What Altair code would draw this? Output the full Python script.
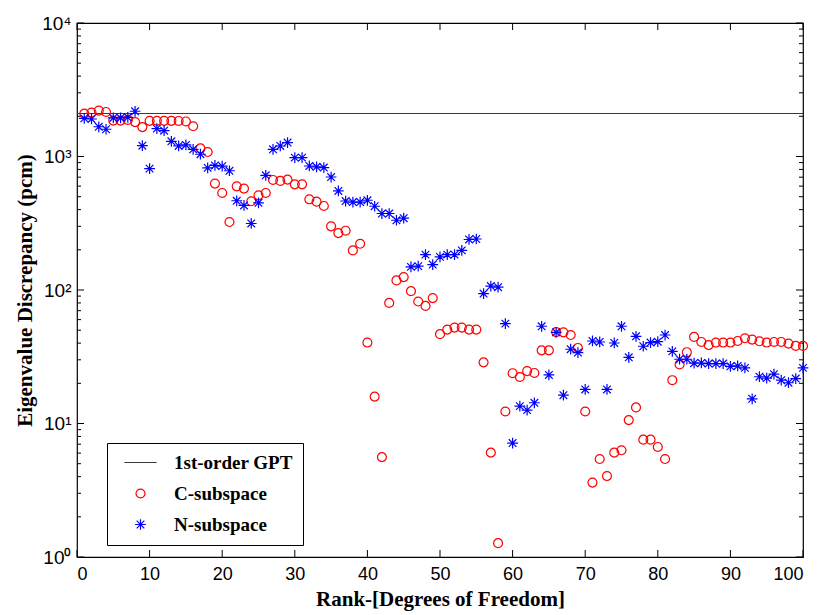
import altair as alt
import pandas as pd

# Eigenvalue discrepancy (pcm) versus rank for the two reduced subspaces
ranks = list(range(1, 101))

c_subspace = [
    2095, 2133, 2208, 2155, 1857, 1857, 1880, 1810, 1660, 1850,
    1850, 1850, 1850, 1845, 1830, 1684, 1150, 1080, 627, 533,
    323, 598, 575, 462, 512, 533, 667, 656, 671, 619,
    619, 478, 459, 426, 300, 267, 278, 198, 222, 40.4,
    15.9, 5.6, 80, 118, 125, 98, 82, 76, 87, 46.7,
    50.5, 52.3, 52.3, 50.5, 50.5, 28.7, 6.05, 1.27, 12.3, 23.8,
    22.3, 24.7, 23.9, 35.3, 35.3, 48.4, 48.2, 46, 36.8, 12.3,
    3.61, 5.42, 4.04, 6.05, 6.3, 10.6, 13.2, 7.57, 7.57, 6.67,
    5.42, 21.1, 27.7, 34.2, 44.5, 40.8, 38.7, 40.4, 40.4, 40.4,
    41.5, 43.5, 42.5, 41.3, 40.4, 40.8, 40.8, 39.7, 38.1, 38.1,
]

n_subspace = [
    1930, 1910, 1670, 1600, 1944, 1944, 1966, 2182, 1205, 811,
    1618, 1560, 1300, 1200, 1220, 1132, 1040, 822, 857, 847,
    782, 466, 430, 315, 450, 723, 1132, 1199, 1271, 981,
    981, 849, 837, 826, 702, 552, 464, 456, 456, 470,
    424, 374, 374, 333, 345, 149, 151, 184, 155, 177,
    184, 184, 198, 239, 241, 94, 107, 105, 56, 7.14,
    13.5, 12.6, 14.3, 53.5, 23.1, 48.2, 16.3, 36, 34, 18.0,
    41.5, 40.8, 18.0, 40.1, 53.5, 31.3, 45, 37.9, 40.4, 41,
    46, 34.7, 30.3, 30.3, 28.3, 28.4, 28.1, 28.1, 28.1, 26.8,
    27, 26.1, 15.3, 22.4, 21.9, 23.4, 21.1, 20.2, 21.7, 26.1,
]

gpt_level = 2100  # first-order GPT reference level

series_names = ["1st-order GPT", "C-subspace", "N-subspace"]
series_colors = ["#3a3a3a", "#ff0000", "#0000ff"]

x_ticks = [0, 10, 20, 30, 40, 50, 60, 70, 80, 90, 100]
y_ticks = [1, 10, 100, 1000, 10000]
y_minor = [m * d for d in [1, 10, 100, 1000] for m in range(2, 10)]

W, H = 726, 534

ASTERISK = "M-1.2,0L1.2,0M0,-1.2L0,1.2M-0.85,-0.85L0.85,0.85M-0.85,0.85L0.85,-0.85"
LINE_SYMBOL = "M-3.6,0L3.6,0"

points = pd.DataFrame({
    "rank": ranks * 2,
    "value": c_subspace + n_subspace,
    "series": ["C-subspace"] * len(ranks) + ["N-subspace"] * len(ranks),
})
gpt = pd.DataFrame({"value": [gpt_level], "series": ["1st-order GPT"]})

xscale = alt.Scale(domain=[0, 100], nice=False, zero=False)
yscale = alt.Scale(type="log", domain=[1, 10000], nice=False)
cscale = alt.Scale(domain=series_names, range=series_colors)
sscale = alt.Scale(domain=series_names, range=[LINE_SYMBOL, "circle", ASTERISK])

serif = "Liberation Serif"
sans = "Liberation Sans"

xaxis = alt.Axis(
    values=x_ticks, ticks=False, grid=False, domain=False,
    labelFont=sans, labelFontSize=18, labelColor="black", labelPadding=8,
    title="Rank-[Degrees of Freedom]", titleFont=serif, titleFontSize=21,
    titleFontWeight="bold", titleColor="black", titlePadding=5)

yaxis = alt.Axis(
    values=y_ticks, ticks=False, grid=False, domain=False,
    labelExpr="'10' + ['\u2070','\u00b9','\u00b2','\u00b3','\u2074'][round(log(datum.value)/log(10))]",
    labelFont=sans, labelFontSize=19, labelColor="black", labelPadding=6,
    title="Eigenvalue Discrepancy (pcm)", titleFont=serif, titleFontSize=21,
    titleFontWeight="bold", titleColor="black", titlePadding=6)

legend = alt.Legend(
    title=None, orient="none", legendX=30, legendY=420,
    strokeColor="black", fillColor="white", padding=10,
    labelFont=serif, labelFontWeight="bold", labelFontSize=19,
    labelColor="black", symbolSize=80, symbolStrokeWidth=1.2,
    rowPadding=11, symbolOffset=14, labelOffset=24,
)

main = alt.Chart(points).mark_point(filled=False, size=80, strokeWidth=1.2, opacity=1).encode(
    x=alt.X("rank:Q", scale=xscale, axis=xaxis),
    y=alt.Y("value:Q", scale=yscale, axis=yaxis),
    color=alt.Color("series:N", scale=cscale, legend=legend),
    shape=alt.Shape("series:N", scale=sscale, legend=legend),
)

gpt_line = alt.Chart(gpt).mark_rule(strokeWidth=1.2).encode(
    y=alt.Y("value:Q", scale=yscale, axis=yaxis),
    color=alt.Color("series:N", scale=cscale, legend=legend),
)

# inward-pointing ticks on all four sides of the box
xt = pd.DataFrame({"x": x_ticks})
ymaj = pd.DataFrame({"v": y_ticks})
ymin = pd.DataFrame({"v": y_minor})

def xtick(y0, y1):
    return alt.Chart(xt).mark_rule(color="black", strokeWidth=1).encode(
        x=alt.X("x:Q", scale=xscale, axis=xaxis), y=alt.value(y0), y2=alt.value(y1))

def ytick(df, x0, x1):
    return alt.Chart(df).mark_rule(color="black", strokeWidth=1).encode(
        y=alt.Y("v:Q", scale=yscale, axis=yaxis), x=alt.value(x0), x2=alt.value(x1))

ticks = [
    xtick(H, H - 7), xtick(0, 7),
    ytick(ymaj, 0, 7), ytick(ymaj, W - 7, W),
    ytick(ymin, 0, 4), ytick(ymin, W - 4, W),
]

chart = alt.layer(*ticks, gpt_line, main).properties(
    width=W, height=H,
    autosize=alt.AutoSizeParams(type="none"),
    padding={"left": 77, "top": 23, "right": 22, "bottom": 58},
    background="white",
).configure_view(stroke="black", strokeWidth=1.2)

chart.save("out.html", embed_options={"renderer": "svg", "actions": False})
